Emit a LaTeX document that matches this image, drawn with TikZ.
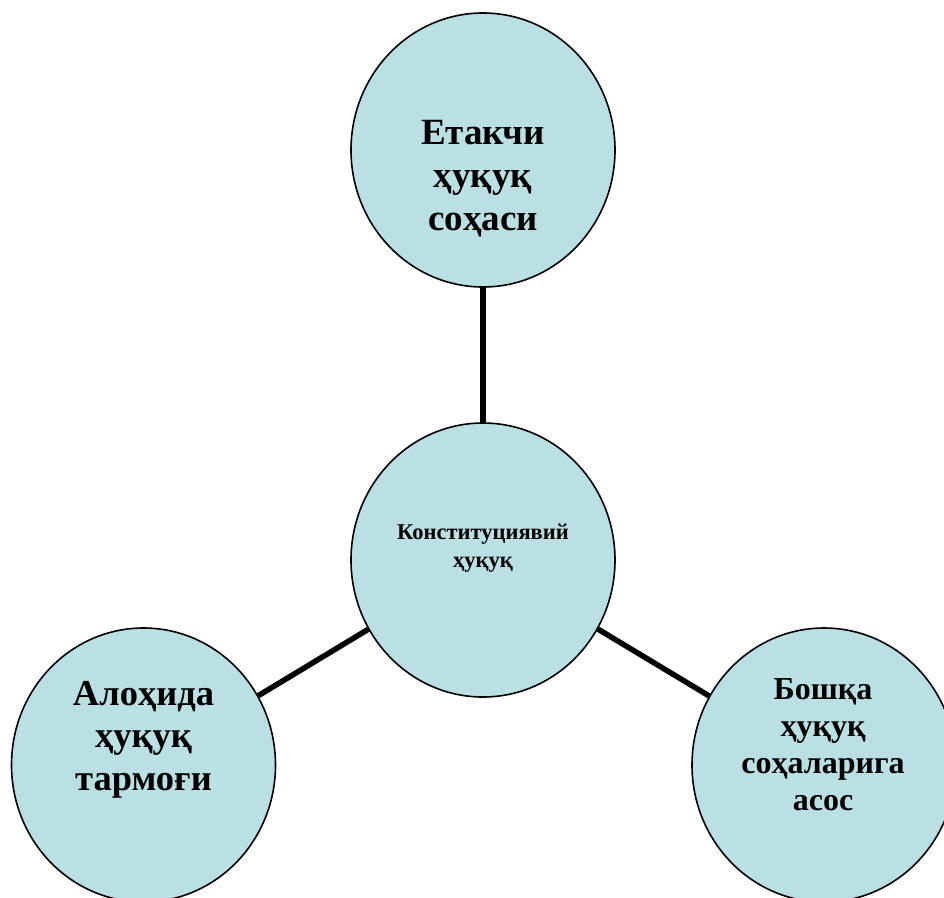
\documentclass[tikz,border=0pt]{standalone}
\usepackage{fontspec}
\setmainfont{Liberation Serif}
\usetikzlibrary{shapes.geometric}
\definecolor{bubble}{RGB}{186,224,228}
\tikzset{
  bubblenode/.style={ellipse, draw=black, line width=1.6pt, fill=bubble,
    minimum width=264pt, minimum height=274pt, inner sep=0pt},
  link/.style={draw=black, line width=5.5pt},
  lbl/.style={anchor=base, inner sep=0pt}
}
\newcommand{\lines}[3]{{\fontsize{#1}{#2}\selectfont\bfseries\setlength{\tabcolsep}{0pt}\begin{tabular}[t]{c}#3\end{tabular}}}
\begin{document}
\begin{tikzpicture}[x=1pt,y=-1pt]
\useasboundingbox (0,0) rectangle (944,897);
\clip (0,0) rectangle (944,897);
\node[bubblenode] (top) at (483,150) {};
\node[bubblenode] (mid) at (483,560) {};
\node[bubblenode] (left) at (143.5,765) {};
\node[bubblenode] (right) at (824,765) {};
\draw[link] (top) -- (mid);
\draw[link] (mid) -- (left);
\draw[link] (mid) -- (right);
\node[lbl] (ttop) at (483,144) {\lines{37}{43}{Етакчи\\ҳуқуқ\\соҳаси}};
\node[lbl] (tmid) at (483,539) {\lines{22.5}{28}{Конституциявий\\ҳуқуқ}};
\node[lbl] (tleft) at (143.5,705) {\lines{36.5}{42.5}{Алоҳида\\ҳуқуқ\\тармоғи}};
\node[lbl] (tright) at (823,699) {\lines{32}{37.3}{Бошқа\\ҳуқуқ\\соҳаларига\\асос}};
\end{tikzpicture}
\end{document}
